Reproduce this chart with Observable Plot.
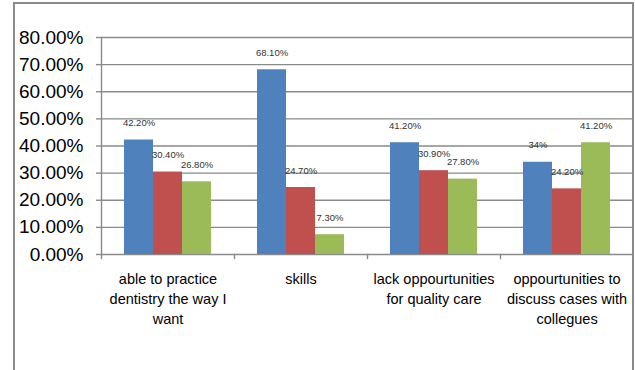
<!DOCTYPE html>
<html>
<head>
<meta charset="utf-8">
<script src="https://cdn.jsdelivr.net/npm/d3@7"></script>
<script src="https://cdn.jsdelivr.net/npm/@observablehq/plot@0.6"></script>
<style>
  html, body { margin: 0; padding: 0; background: #fff; overflow: hidden; }
  #wrap { position: relative; width: 635px; height: 370px; }
  #border { position: absolute; left: 13px; top: 2px; width: 621px; height: 420px;
            border: 2px solid #8a8a8a; box-sizing: border-box; pointer-events: none; }
  svg { display: block; }
</style>
</head>
<body>
<div id="wrap"><div id="border"></div></div>
<script>
const categories = [
  "able to practice dentistry the way I want",
  "skills",
  "lack oppourtunities for quality care",
  "oppourtunities to discuss cases with collegues"
];
const categoryLabels = [
  "able to practice\ndentistry the way I\nwant",
  "skills",
  "lack oppourtunities\nfor quality care",
  "oppourtunities to\ndiscuss cases with\ncollegues"
];
const series = ["Series1", "Series2", "Series3"];
const seriesColors = ["#4F81BD", "#C0504D", "#9BBB59"];
const series1Values = [42.2, 68.1, 41.2, 34];
const series2Values = [30.4, 24.7, 30.9, 24.2];
const series3Values = [26.8, 7.3, 27.8, 41.2];
const series1Labels = ["42.20%", "68.10%", "41.20%", "34%"];
const series2Labels = ["30.40%", "24.70%", "30.90%", "24.20%"];
const series3Labels = ["26.80%", "7.30%", "27.80%", "41.20%"];
const yTicks = [0, 10, 20, 30, 40, 50, 60, 70, 80];

const allValues = [series1Values, series2Values, series3Values];
const allLabels = [series1Labels, series2Labels, series3Labels];
const data = [];
categories.forEach((c, i) => {
  series.forEach((s, j) => {
    data.push({cat: c, series: s, value: allValues[j][i], label: allLabels[j][i]});
  });
});
const catRows = categories.map((c, i) => ({cat: c, label: categoryLabels[i]}));

const font = "Liberation Sans, Arial, sans-serif";
const plot = Plot.plot({
  width: 635,
  height: 370,
  marginLeft: 100,
  marginRight: 1,
  marginTop: 37,
  marginBottom: 116,
  style: {fontFamily: font, background: "transparent", color: "#000"},
  fx: {domain: categories, padding: 0, axis: null, label: null},
  x: {domain: series, paddingInner: 0, paddingOuter: 0.75, axis: null, label: null},
  y: {domain: [0, 80], axis: null, label: null},
  color: {domain: series, range: seriesColors},
  marks: [
    Plot.gridY(yTicks, {stroke: "#8a8a8a", strokeOpacity: 1, strokeWidth: 1.4}),
    Plot.frame({anchor: "left", insetTop: 217, insetBottom: -4, stroke: "#8a8a8a", strokeWidth: 1.4}),
    Plot.frame({anchor: "left", facet: "super", stroke: "#8a8a8a", strokeWidth: 1.4}),
    Plot.axisY({ticks: yTicks, tickFormat: d => d.toFixed(2) + "%", fontSize: 19, label: null,
                tickSize: 5, tickPadding: 13, stroke: "#8a8a8a", strokeWidth: 1.4}),
    Plot.barY(data, {fx: "cat", x: "series", y: "value", fill: "series"}),
    Plot.text(data, {fx: "cat", x: "series", y: "value", text: "label", dy: -17,
                     fontSize: 9.5, fill: "#333"}),
    Plot.text(catRows, {fx: "cat", text: "label", frameAnchor: "bottom", lineAnchor: "top",
                        dy: 15.5, lineHeight: 1.38, fontSize: 14.5, fill: "#000"})
  ]
});
document.getElementById("wrap").prepend(plot);
</script>
</body>
</html>
